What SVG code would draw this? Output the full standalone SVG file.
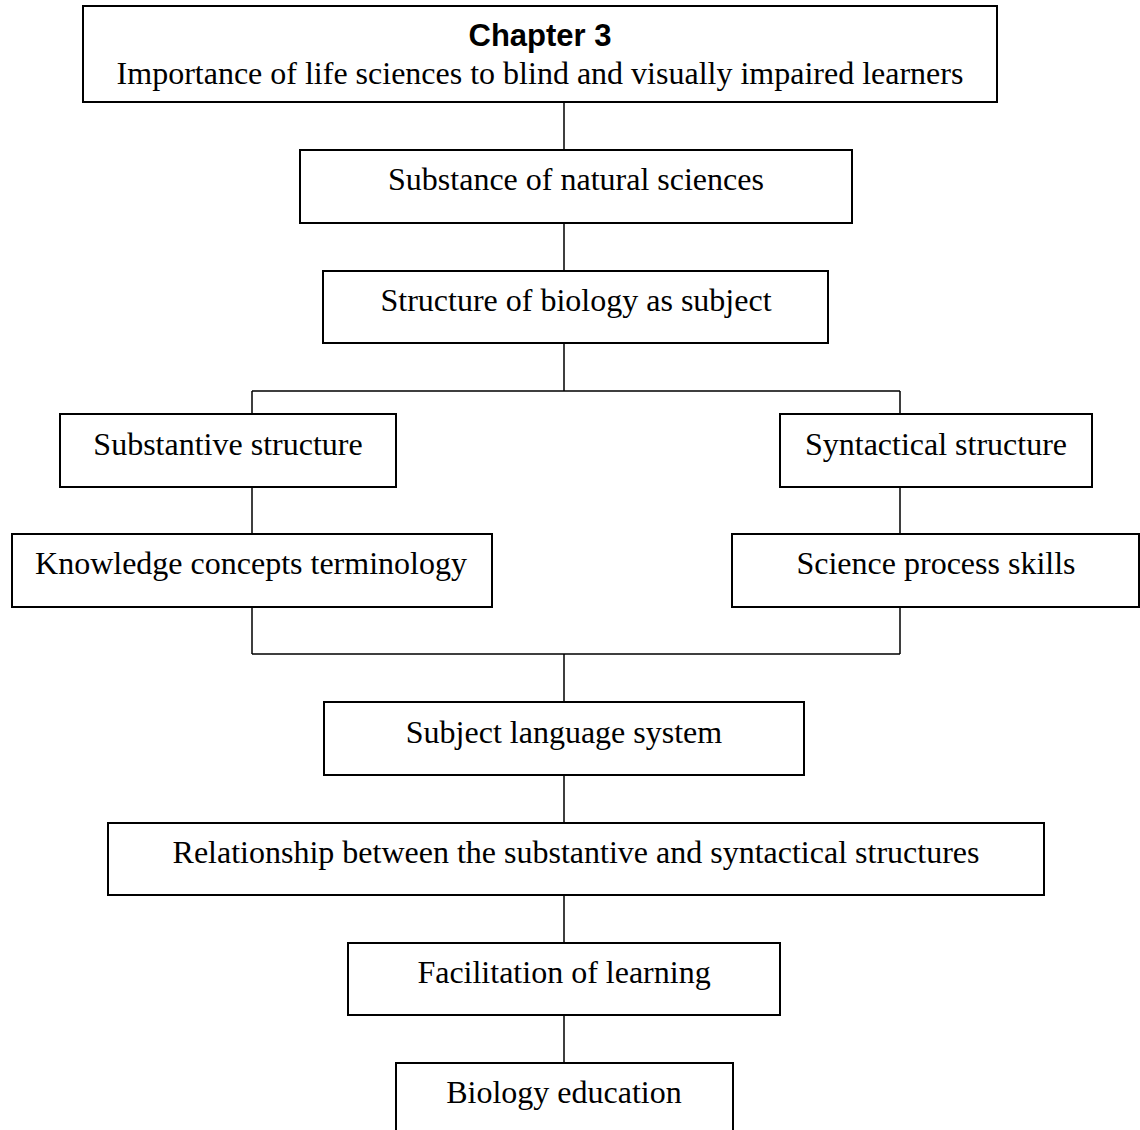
<svg xmlns="http://www.w3.org/2000/svg" width="1140" height="1130" viewBox="0 0 1140 1130">
<style>
.box{fill:#fff;stroke:#000;stroke-width:2}
.t{font-family:"Liberation Serif","Times New Roman",serif;font-size:32px;fill:#000;text-anchor:middle}
.b{font-family:"Liberation Sans",Arial,sans-serif;font-size:31px;font-weight:bold;fill:#000;text-anchor:middle}
.c{fill:none;stroke:#000;stroke-width:1.5}
</style>
<rect width="1140" height="1130" fill="#fff"/>
<g id="connectors">
<path class="c" d="M564 102V150M564 223V271M564 343V391M252 391H900M252 391V414M900 391V414M252 487V534M900 487V534M252 607V654M900 607V654M252 654H900M564 654V702M564 775V823M564 895V943M564 1015V1063"/>
</g>
<g id="n1"><rect class="box" x="83" y="6" width="914" height="96"/><text class="b" x="540" y="46">Chapter 3</text><text class="t" x="540" y="84">Importance of life sciences to blind and visually impaired learners</text></g>
<g id="n2"><rect class="box" x="300" y="150" width="552" height="73"/><text class="t" x="576" y="190">Substance of natural sciences</text></g>
<g id="n3"><rect class="box" x="323" y="271" width="505" height="72"/><text class="t" x="576" y="311">Structure of biology as subject</text></g>
<g id="n4"><rect class="box" x="60" y="414" width="336" height="73"/><text class="t" x="228" y="455">Substantive structure</text></g>
<g id="n5"><rect class="box" x="780" y="414" width="312" height="73"/><text class="t" x="936" y="455">Syntactical structure</text></g>
<g id="n6"><rect class="box" x="12" y="534" width="480" height="73"/><text class="t" x="251" y="574">Knowledge concepts terminology</text></g>
<g id="n7"><rect class="box" x="732" y="534" width="407" height="73"/><text class="t" x="936" y="574">Science process skills</text></g>
<g id="n8"><rect class="box" x="324" y="702" width="480" height="73"/><text class="t" x="564" y="743">Subject language system</text></g>
<g id="n9"><rect class="box" x="108" y="823" width="936" height="72"/><text class="t" x="576" y="863">Relationship between the substantive and syntactical structures</text></g>
<g id="n10"><rect class="box" x="348" y="943" width="432" height="72"/><text class="t" x="564" y="983">Facilitation of learning</text></g>
<g id="n11"><rect class="box" x="396" y="1063" width="337" height="80"/><text class="t" x="564" y="1103">Biology education</text></g>
</svg>
